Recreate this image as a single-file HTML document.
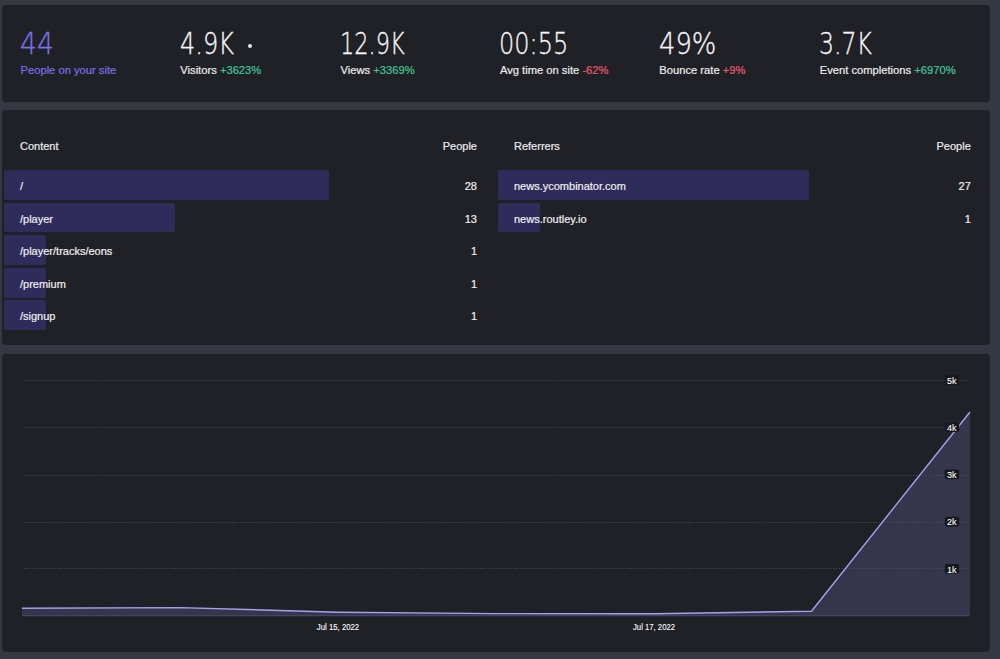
<!DOCTYPE html>
<html><head><meta charset="utf-8">
<style>
html,body{margin:0;padding:0;}
body{width:1000px;height:659px;overflow:hidden;background:#343841;font-family:"Liberation Sans",sans-serif;color:#ececec;position:relative;}
.card{position:absolute;left:2px;width:988px;background:#202127;border-radius:4px;}
#c1{top:5px;height:97px;}
#c2{top:110px;height:235px;}
#c3{top:354px;height:298px;}
.num{position:absolute;top:21px;font-family:"DejaVu Sans",sans-serif;font-weight:200;font-size:30px;line-height:36px;color:#f6f6f6;-webkit-text-stroke:0.35px #f6f6f6;white-space:nowrap;transform-origin:0 0;}
.lbl{position:absolute;top:59.3px;font-size:11.2px;line-height:13px;white-space:nowrap;color:#ececec;-webkit-text-stroke:0.2px currentColor;}
.dot{position:absolute;left:245.8px;top:39.1px;width:4.4px;height:4.4px;border-radius:50%;background:#e6e2fb;}
.g{color:#43c596;}
.r{color:#e05c74;}
.hdr{position:absolute;top:30px;font-size:11px;color:#ececec;-webkit-text-stroke:0.2px currentColor;}
.row{position:absolute;height:29.8px;}
.bar{position:absolute;top:0;left:0;height:29.8px;background:#2f2b5a;border-radius:2px;}
.rt{position:absolute;top:10.1px;font-size:11px;line-height:13px;color:#f0f0f0;white-space:nowrap;-webkit-text-stroke:0.2px currentColor;}
.rn{position:absolute;top:10.1px;font-size:11px;line-height:13px;color:#f0f0f0;text-align:right;-webkit-text-stroke:0.2px currentColor;}
</style></head><body>
<div class="card" id="c1">
 <div class="num" style="left:18.0px;transform:scaleX(0.886);color:#7b70e4;-webkit-text-stroke-color:#7b70e4;">44</div>
 <div class="lbl" style="left:18.5px;color:#7b70e4;">People on your site</div>
 <div class="num" style="left:177.8px;transform:scaleX(0.8);">4.9K</div>
 <div class="lbl" style="left:178.3px;">Visitors <span class="g">+3623%</span></div>
 <div class="num" style="left:338.0px;transform:scaleX(0.747);">12.9K</div>
 <div class="lbl" style="left:338.5px;">Views <span class="g">+3369%</span></div>
 <div class="num" style="left:497.4px;transform:scaleX(0.8);">00:55</div>
 <div class="lbl" style="left:497.9px;">Avg time on site <span class="r">-62%</span></div>
 <div class="num" style="left:656.8px;transform:scaleX(0.86);">49%</div>
 <div class="lbl" style="left:657.3px;">Bounce rate <span class="r">+9%</span></div>
 <div class="num" style="left:817.2px;transform:scaleX(0.785);">3.7K</div>
 <div class="lbl" style="left:817.7px;">Event completions <span class="g">+6970%</span></div>
 <div class="dot"></div>
</div>
<div class="card" id="c2">
 <div class="hdr" style="left:18px">Content</div>
 <div class="hdr" style="left:435px;width:40px;text-align:right">People</div>
 <div class="hdr" style="left:512px">Referrers</div>
 <div class="hdr" style="left:928.8px;width:40px;text-align:right">People</div>

 <div class="row" style="left:2px;top:60.2px;width:489px"><div class="bar" style="width:325px"></div><div class="rt" style="left:16px">/</div><div class="rn" style="right:16px">28</div></div>
 <div class="row" style="left:2px;top:92.7px;width:489px"><div class="bar" style="width:170.5px"></div><div class="rt" style="left:16px">/player</div><div class="rn" style="right:16px">13</div></div>
 <div class="row" style="left:2px;top:125.2px;width:489px"><div class="bar" style="width:42.4px"></div><div class="rt" style="left:16px">/player/tracks/eons</div><div class="rn" style="right:16px">1</div></div>
 <div class="row" style="left:2px;top:157.8px;width:489px"><div class="bar" style="width:42.4px"></div><div class="rt" style="left:16px">/premium</div><div class="rn" style="right:16px">1</div></div>
 <div class="row" style="left:2px;top:190.3px;width:489px"><div class="bar" style="width:42.4px"></div><div class="rt" style="left:16px">/signup</div><div class="rn" style="right:16px">1</div></div>

 <div class="row" style="left:496px;top:60.2px;width:488px"><div class="bar" style="width:311px"></div><div class="rt" style="left:16px">news.ycombinator.com</div><div class="rn" style="right:15.2px">27</div></div>
 <div class="row" style="left:496px;top:92.7px;width:488px"><div class="bar" style="width:42.4px"></div><div class="rt" style="left:16px">news.routley.io</div><div class="rn" style="right:15.2px">1</div></div>
</div>
<div class="card" id="c3">
<svg width="1000" height="659" style="position:absolute;left:-2px;top:-354px">
<style>.gl{stroke:#50525a;stroke-width:1;stroke-dasharray:1 1.85;} .yl{font-family:"Liberation Sans",sans-serif;font-size:9px;fill:#ffffff;stroke:#ffffff;stroke-width:0.1px;text-anchor:middle;} .xl{font-family:"Liberation Sans",sans-serif;font-size:8.7px;fill:#ffffff;stroke:#ffffff;stroke-width:0.1px;text-anchor:middle;}</style>
<path d="M22,608.3 L180,607.6 L338,612.2 L496,613.6 L654,613.7 L811.5,611.2 L970,412 L970,616.2 L22,616.2 Z" fill="#35354c"/>
<line x1="22" y1="615.6" x2="970" y2="615.6" stroke="#48446a" stroke-width="1"/>
<line x1="24" y1="568.5" x2="970" y2="568.5" class="gl"/>
<line x1="24" y1="522.5" x2="970" y2="522.5" class="gl"/>
<line x1="24" y1="475.5" x2="970" y2="475.5" class="gl"/>
<line x1="24" y1="427.5" x2="970" y2="427.5" class="gl"/>
<line x1="24" y1="380.5" x2="970" y2="380.5" class="gl"/>
<path d="M22,608.3 L180,607.6 L338,612.2 L496,613.6 L654,613.7 L811.5,611.2 L970,412" fill="none" stroke="#a7a1ec" stroke-width="1.4" stroke-linejoin="round"/>
<rect x="944.8" y="564.0" width="14.4" height="9.6" rx="2" fill="#17181c"/><text x="951.8" y="572.5" class="yl">1k</text>
<rect x="944.8" y="516.8" width="14.4" height="9.6" rx="2" fill="#17181c"/><text x="951.8" y="525.3" class="yl">2k</text>
<rect x="944.8" y="469.6" width="14.4" height="9.6" rx="2" fill="#17181c"/><text x="951.8" y="478.1" class="yl">3k</text>
<rect x="944.8" y="422.4" width="14.4" height="9.6" rx="2" fill="#17181c"/><text x="951.8" y="430.9" class="yl">4k</text>
<rect x="944.8" y="375.2" width="14.4" height="9.6" rx="2" fill="#17181c"/><text x="951.8" y="383.7" class="yl">5k</text>
<text x="338" y="630" class="xl" textLength="42.4" lengthAdjust="spacingAndGlyphs">Jul 15, 2022</text>
<text x="654" y="630" class="xl" textLength="42" lengthAdjust="spacingAndGlyphs">Jul 17, 2022</text>
</svg>
</div>

</body></html>
